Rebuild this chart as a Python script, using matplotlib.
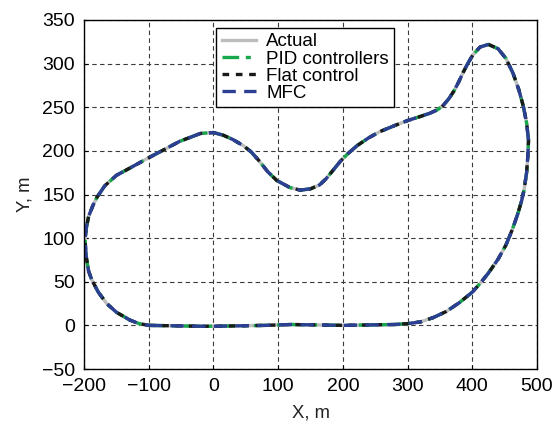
import matplotlib
matplotlib.use('Agg')
from matplotlib import pyplot as plt

# track points (x, y in metres)
track_x = [-100, -60, -20, 0, 40, 80, 120, 160, 200, 240, 280, 300, 320, 340,
           360, 380, 400, 412, 425, 440, 452, 462, 470, 476, 480, 484, 486,
           487, 484, 479, 472, 463, 452, 440, 425, 412, 401, 393, 386, 379,
           372, 364, 355, 346, 334, 318, 301, 280, 257, 240, 222, 208, 196,
           184, 174, 164, 150, 134, 118, 98, 84, 70, 58, 46, 30, 15, 0, -20, -52, -80,
           -103, -130, -150, -168, -180, -186, -193, -197, -198.5, -197, -193,
           -188, -178, -165, -150, -129, -115, -100]
track_y = [0, -0.5, -1, -1, -0.5, 0, 1, 0.5, 0, 0.5, 1, 2, 4, 9,
           16, 26, 38, 48, 60, 76, 92, 110, 127, 142, 155, 175, 195,
           212, 232, 251, 270, 289, 306, 317, 322, 319, 310, 300, 290, 279,
           269, 260, 252, 247, 243, 239, 235, 229, 222, 215, 206, 197, 188,
           177, 168, 161, 156.5, 155, 158, 166, 176, 189, 199, 206, 213, 218, 221, 220, 211, 200,
           191, 180, 172, 160, 147, 138, 125, 110, 98, 80, 62,
           52, 38, 25, 15, 6, 2, 0]

labels = ['Actual', 'PID controllers', 'Flat control', 'MFC']
x_ticks = [-200, -100, 0, 100, 200, 300, 400, 500]
y_ticks = [-50, 0, 50, 100, 150, 200, 250, 300, 350]

plt.rcParams['font.family'] = ['Liberation Sans', 'DejaVu Sans']

fig = plt.figure(figsize=(5.57, 4.21), dpi=100)
ax = fig.add_axes([0.151, 0.1235, 0.813, 0.829])

ax.plot(track_x, track_y, color='#bdbdbd', lw=2.4, label=labels[0])
ax.plot(track_x, track_y, color='#16a84a', lw=2.4, ls=(0, (5, 2, 1.5, 2)), label=labels[1])
ax.plot(track_x, track_y, color='#1a1a1a', lw=2.4, ls=(0, (2, 2)), label=labels[2])
ax.plot(track_x, track_y, color='#2b3f93', lw=2.4, ls=(0, (4, 2.5)), label=labels[3])

ax.set_xlim(-200, 500)
ax.set_ylim(-50, 350)
ax.set_xticks(x_ticks)
ax.set_yticks(y_ticks)
ax.grid(True, color='#3a3a3a', ls=(0, (4, 3)), lw=0.8)
ax.tick_params(axis='both', direction='in', length=3, labelsize=14, pad=6.5)
for s in ax.spines.values():
    s.set_linewidth(1.0)

ax.set_xlabel('X, m', fontsize=13.3, color='#222222', labelpad=7)
ax.set_ylabel('Y, m', fontsize=13.3, color='#222222', labelpad=6)

leg = ax.legend(loc='upper left', bbox_to_anchor=(0.291, 0.978), borderaxespad=0,
                fontsize=13.5, labelspacing=0.0, borderpad=0.3, handlelength=1.85,
                handletextpad=0.53, fancybox=False, framealpha=1, edgecolor='black')
leg.get_frame().set_linewidth(1.0)

plt.savefig('out.png', dpi=100)
